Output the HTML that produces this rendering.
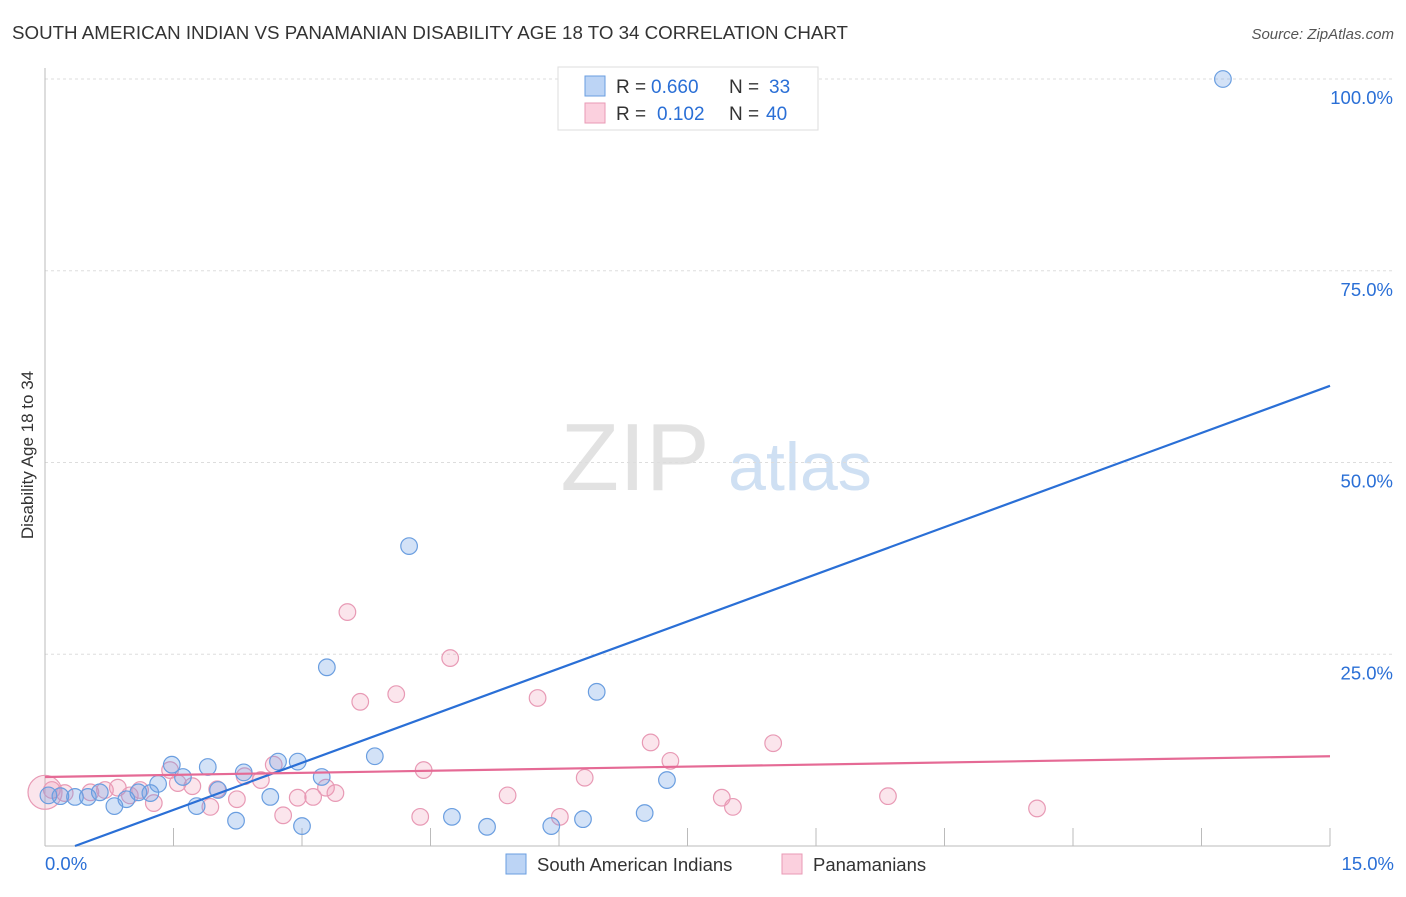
<!DOCTYPE html>
<html><head><meta charset="utf-8">
<style>
body{margin:0;background:#fff;font-family:"Liberation Sans",sans-serif;}
svg text{font-family:"Liberation Sans",sans-serif;}
</style></head>
<body>
<svg id="chart" width="1406" height="892" xmlns="http://www.w3.org/2000/svg">
<text x="12" y="39" font-size="18.6" fill="#333" textLength="836" lengthAdjust="spacingAndGlyphs">SOUTH AMERICAN INDIAN VS PANAMANIAN DISABILITY AGE 18 TO 34 CORRELATION CHART</text>
<text x="1394" y="39" font-size="15" fill="#555" font-style="italic" text-anchor="end">Source: ZipAtlas.com</text>
<text x="33" y="455" font-size="17" fill="#333" text-anchor="middle" transform="rotate(-90 33 455)">Disability Age 18 to 34</text>
<g>
<text x="635" y="490" font-size="96" fill="#e2e2e2" font-family="Liberation Serif" text-anchor="middle">ZIP</text>
<text x="800" y="490" font-size="68" fill="#cfe0f3" text-anchor="middle">atlas</text>
</g>
<g id="grid"></g>
<g id="axes"></g>
<g id="marks"></g>
<g>
<rect x="558" y="67" width="260" height="63" fill="#fff" stroke="#ddd"/>
<rect x="585" y="76" width="20" height="20" fill="#bcd4f5" stroke="#6a9ee0"/>
<rect x="585" y="103" width="20" height="20" fill="#fbd0de" stroke="#e89ab5"/>
<text x="616" y="93" font-size="19" fill="#333">R =</text>
<text x="651" y="93" font-size="19" fill="#2a6fd6">0.660</text>
<text x="729" y="93" font-size="19" fill="#333">N =</text>
<text x="769" y="93" font-size="19" fill="#2a6fd6">33</text>
<text x="616" y="120" font-size="19" fill="#333">R =</text>
<text x="657" y="120" font-size="19" fill="#2a6fd6">0.102</text>
<text x="729" y="120" font-size="19" fill="#333">N =</text>
<text x="766" y="120" font-size="19" fill="#2a6fd6">40</text>
</g>
<g>
<rect x="506" y="854" width="20" height="20" fill="#bcd4f5" stroke="#6a9ee0"/>
<text x="537" y="871" font-size="18.5" fill="#333">South American Indians</text>
<rect x="782" y="854" width="20" height="20" fill="#fbd0de" stroke="#e89ab5"/>
<text x="813" y="871" font-size="18.5" fill="#333">Panamanians</text>
</g>
</svg>
<script>
const blueX=[13.75,4.25,3.29,6.44,3.85,1.48,1.90,2.32,2.72,2.95,3.23,1.61,1.32,7.26,0.18,0.35,0.50,0.64,0.95,1.09,1.23,2.02,2.63,1.77,0.81,2.23,3.00,4.75,5.16,5.91,6.28,7.00,0.04];
const blueY=[100,39.1,23.3,20.1,11.7,10.6,10.3,9.6,11.0,11.0,9.0,9.0,8.1,8.6,6.5,6.4,6.4,7.0,6.1,7.0,6.9,7.3,6.4,5.2,5.2,3.3,2.6,3.8,2.5,2.6,3.5,4.3,6.6];
const pinkX=[3.53,4.73,3.68,4.10,5.75,7.07,8.50,7.30,2.67,4.42,6.30,1.46,1.55,1.72,2.01,2.52,2.33,3.28,3.39,2.95,3.13,5.40,7.90,9.84,8.03,11.58,2.24,1.93,1.27,2.78,4.38,6.01,0.08,0.23,0.53,0.70,0.85,1.11,0.99,0.0];
const pinkY=[30.5,24.5,18.8,19.8,19.3,13.5,13.4,11.1,10.6,9.9,8.9,9.9,8.2,7.8,7.4,8.6,9.1,7.6,6.9,6.3,6.4,6.6,6.3,6.5,5.1,4.9,6.1,5.1,5.6,4.0,3.8,3.8,7.3,6.9,7.0,7.3,7.6,7.3,6.6,7.0];
const blueTrend=[[0.35,0],[15,60]];
const pinkTrend=[[0,9.0],[15,11.7]];
const yTicks=[25,50,75,100];
const yTickLabels=["25.0%","50.0%","75.0%","100.0%"];
const xTicks=[0,1.5,3,4.5,6,7.5,9,10.5,12,13.5,15];

const NS="http://www.w3.org/2000/svg";
const X0=45,X1=1330,Y0=846,Y1=79;
const sx=v=>X0+(X1-X0)*v/15;
const sy=v=>Y0-(Y0-Y1)*v/100;
function mk(tag,attrs,parent){const e=document.createElementNS(NS,tag);for(const k in attrs)e.setAttribute(k,attrs[k]);parent.appendChild(e);return e;}
const grid=document.getElementById('grid'),axes=document.getElementById('axes'),marks=document.getElementById('marks');
yTicks.forEach((t,i)=>{
 const l=mk('line',{x1:X0,x2:1394,y1:sy(t),y2:sy(t),stroke:'#ddd','stroke-dasharray':'3,3'},grid);
 
 
 const tx=mk('text',{x:1393,y:sy(t)+25,'font-size':18.5,fill:'#2a6fd6','text-anchor':'end'},axes);
 tx.textContent=yTickLabels[i];
 
 
});
const ax=mk('line',{x1:X0,x2:X0,y1:68,y2:Y0,stroke:'#bbb'},axes);


const bx=mk('line',{x1:X0,x2:X1,y1:Y0,y2:Y0,stroke:'#bbb'},axes);


xTicks.forEach(t=>{
 const l=mk('line',{x1:sx(t),x2:sx(t),y1:Y0,y2:828,stroke:'#bbb'},axes);
 
 
});
const xl0=mk('text',{x:45,y:870,'font-size':18.5,fill:'#2a6fd6'},axes);xl0.textContent="0.0%";


const xl1=mk('text',{x:1394,y:870,'font-size':18.5,fill:'#2a6fd6','text-anchor':'end'},axes);xl1.textContent="15.0%";



pinkX.forEach((x,i)=>{
 const big=(i===pinkX.length-1);
 const c=mk('circle',{cx:sx(x),cy:sy(pinkY[i]),r:big?17:8.3,fill:'rgba(240,150,180,0.25)',stroke:'#e89ab5','stroke-width':1.2},marks);
 
 
});
blueX.forEach((x,i)=>{
 const c=mk('circle',{cx:sx(x),cy:sy(blueY[i]),r:8.3,fill:'rgba(110,160,230,0.3)',stroke:'#6a9ee0','stroke-width':1.2},marks);
 
 
});
const bl=mk('line',{x1:sx(blueTrend[0][0]),y1:sy(blueTrend[0][1]),x2:sx(blueTrend[1][0]),y2:sy(blueTrend[1][1]),stroke:'#2a6fd6','stroke-width':2.2},marks);


const pl=mk('line',{x1:sx(pinkTrend[0][0]),y1:sy(pinkTrend[0][1]),x2:sx(pinkTrend[1][0]),y2:sy(pinkTrend[1][1]),stroke:'#e56a95','stroke-width':2.2},marks);


</script>
</body></html>
